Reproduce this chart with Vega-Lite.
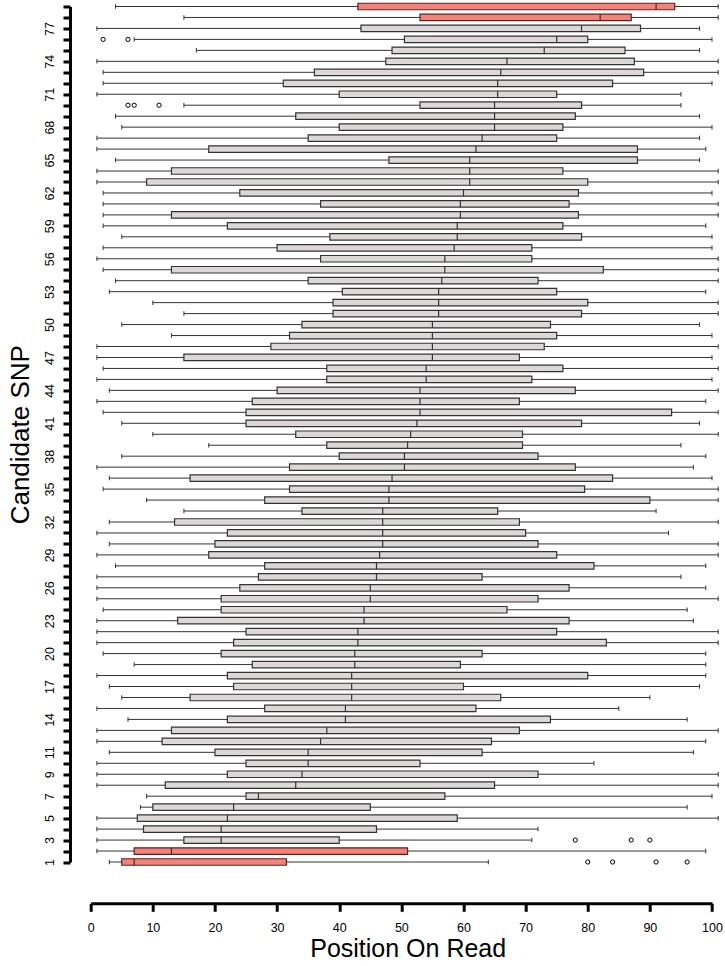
{
  "$schema": "https://vega.github.io/schema/vega-lite/v6.json",
  "width": 621.3,
  "height": 855.5,
  "autosize": "none",
  "padding": {"left": 90.7, "top": 6.5, "right": 13, "bottom": 104},
  "config": {"view": {"stroke": null}, "font": "Liberation Sans"},
  "datasets": {
    "boxes": [
      {"snp":1,"lo":3,"q1":5,"med":7,"q3":31.5,"hi":64},
      {"snp":2,"lo":1,"q1":7,"med":13,"q3":51,"hi":99},
      {"snp":3,"lo":1,"q1":15,"med":21,"q3":40,"hi":71},
      {"snp":4,"lo":1,"q1":8.5,"med":21,"q3":46,"hi":72},
      {"snp":5,"lo":1,"q1":7.5,"med":22,"q3":59,"hi":101},
      {"snp":6,"lo":8,"q1":10,"med":23,"q3":45,"hi":96},
      {"snp":7,"lo":9,"q1":25,"med":27,"q3":57,"hi":100},
      {"snp":8,"lo":1,"q1":12,"med":33,"q3":65,"hi":101},
      {"snp":9,"lo":1,"q1":22,"med":34,"q3":72,"hi":101},
      {"snp":10,"lo":1,"q1":25,"med":35,"q3":53,"hi":81},
      {"snp":11,"lo":3,"q1":20,"med":35,"q3":63,"hi":97},
      {"snp":12,"lo":1,"q1":11.5,"med":37,"q3":64.5,"hi":99},
      {"snp":13,"lo":1,"q1":13,"med":38,"q3":69,"hi":101},
      {"snp":14,"lo":6,"q1":22,"med":41,"q3":74,"hi":96},
      {"snp":15,"lo":1,"q1":28,"med":41,"q3":62,"hi":85},
      {"snp":16,"lo":5,"q1":16,"med":42,"q3":66,"hi":90},
      {"snp":17,"lo":3,"q1":23,"med":42,"q3":60,"hi":98},
      {"snp":18,"lo":1,"q1":22,"med":42,"q3":80,"hi":99},
      {"snp":19,"lo":7,"q1":26,"med":42.5,"q3":59.5,"hi":99},
      {"snp":20,"lo":2,"q1":21,"med":42.5,"q3":63,"hi":99},
      {"snp":21,"lo":1,"q1":23,"med":43,"q3":83,"hi":101},
      {"snp":22,"lo":1,"q1":25,"med":43,"q3":75,"hi":101},
      {"snp":23,"lo":1,"q1":14,"med":44,"q3":77,"hi":97},
      {"snp":24,"lo":2,"q1":21,"med":44,"q3":67,"hi":96},
      {"snp":25,"lo":1,"q1":21,"med":45,"q3":72,"hi":101},
      {"snp":26,"lo":1,"q1":24,"med":45,"q3":77,"hi":99},
      {"snp":27,"lo":1,"q1":27,"med":46,"q3":63,"hi":95},
      {"snp":28,"lo":4,"q1":28,"med":46,"q3":81,"hi":99},
      {"snp":29,"lo":1,"q1":19,"med":46.5,"q3":75,"hi":101},
      {"snp":30,"lo":3,"q1":20,"med":47,"q3":72,"hi":101},
      {"snp":31,"lo":1,"q1":22,"med":47,"q3":70,"hi":93},
      {"snp":32,"lo":3,"q1":13.5,"med":47,"q3":69,"hi":101},
      {"snp":33,"lo":15,"q1":34,"med":47,"q3":65.5,"hi":91},
      {"snp":34,"lo":9,"q1":28,"med":48,"q3":90,"hi":101},
      {"snp":35,"lo":2,"q1":32,"med":48,"q3":79.5,"hi":101},
      {"snp":36,"lo":3,"q1":16,"med":48.5,"q3":84,"hi":100},
      {"snp":37,"lo":1,"q1":32,"med":50.5,"q3":78,"hi":97},
      {"snp":38,"lo":5,"q1":40,"med":50.5,"q3":72,"hi":99},
      {"snp":39,"lo":19,"q1":38,"med":51,"q3":69.5,"hi":95},
      {"snp":40,"lo":10,"q1":33,"med":51.5,"q3":69.5,"hi":101},
      {"snp":41,"lo":5,"q1":25,"med":52.5,"q3":79,"hi":98},
      {"snp":42,"lo":2,"q1":25,"med":53,"q3":93.5,"hi":101},
      {"snp":43,"lo":1,"q1":26,"med":53,"q3":69,"hi":99},
      {"snp":44,"lo":3,"q1":30,"med":53,"q3":78,"hi":101},
      {"snp":45,"lo":1,"q1":38,"med":54,"q3":71,"hi":100},
      {"snp":46,"lo":2,"q1":38,"med":54,"q3":76,"hi":101},
      {"snp":47,"lo":1,"q1":15,"med":55,"q3":69,"hi":100},
      {"snp":48,"lo":1,"q1":29,"med":55,"q3":73,"hi":101},
      {"snp":49,"lo":13,"q1":32,"med":55,"q3":75,"hi":100},
      {"snp":50,"lo":5,"q1":34,"med":55,"q3":74,"hi":98},
      {"snp":51,"lo":15,"q1":39,"med":56,"q3":79,"hi":101},
      {"snp":52,"lo":10,"q1":39,"med":56,"q3":80,"hi":101},
      {"snp":53,"lo":3,"q1":40.5,"med":56,"q3":75,"hi":99},
      {"snp":54,"lo":4,"q1":35,"med":56.5,"q3":72,"hi":101},
      {"snp":55,"lo":2,"q1":13,"med":57,"q3":82.5,"hi":101},
      {"snp":56,"lo":1,"q1":37,"med":57,"q3":71,"hi":101},
      {"snp":57,"lo":2,"q1":30,"med":58.5,"q3":71,"hi":100},
      {"snp":58,"lo":5,"q1":38.5,"med":59,"q3":79,"hi":100},
      {"snp":59,"lo":2,"q1":22,"med":59,"q3":76,"hi":99},
      {"snp":60,"lo":2,"q1":13,"med":59.5,"q3":78.5,"hi":101},
      {"snp":61,"lo":2,"q1":37,"med":59.5,"q3":77,"hi":101},
      {"snp":62,"lo":2,"q1":24,"med":60,"q3":78.5,"hi":100},
      {"snp":63,"lo":1,"q1":9,"med":61,"q3":80,"hi":101},
      {"snp":64,"lo":1,"q1":13,"med":61,"q3":76,"hi":101},
      {"snp":65,"lo":4,"q1":48,"med":61,"q3":88,"hi":98},
      {"snp":66,"lo":1,"q1":19,"med":62,"q3":88,"hi":99},
      {"snp":67,"lo":1,"q1":35,"med":63,"q3":75,"hi":98},
      {"snp":68,"lo":5,"q1":40,"med":65,"q3":76,"hi":100},
      {"snp":69,"lo":4,"q1":33,"med":65,"q3":78,"hi":98},
      {"snp":70,"lo":15,"q1":53,"med":65,"q3":79,"hi":95},
      {"snp":71,"lo":1,"q1":40,"med":65.5,"q3":75,"hi":95},
      {"snp":72,"lo":2,"q1":31,"med":65.5,"q3":84,"hi":100},
      {"snp":73,"lo":2,"q1":36,"med":66,"q3":89,"hi":101},
      {"snp":74,"lo":1,"q1":47.5,"med":67,"q3":87.5,"hi":101},
      {"snp":75,"lo":17,"q1":48.5,"med":73,"q3":86,"hi":98},
      {"snp":76,"lo":7,"q1":50.5,"med":75,"q3":80,"hi":100},
      {"snp":77,"lo":1,"q1":43.5,"med":79,"q3":88.5,"hi":98},
      {"snp":78,"lo":15,"q1":53,"med":82,"q3":87,"hi":101},
      {"snp":79,"lo":4,"q1":43,"med":91,"q3":94,"hi":101}
    ],
    "outliers": [
      {"snp":1,"pos":80},{"snp":1,"pos":84},{"snp":1,"pos":91},{"snp":1,"pos":96},
      {"snp":3,"pos":78},{"snp":3,"pos":87},{"snp":3,"pos":90},
      {"snp":70,"pos":6},{"snp":70,"pos":7},{"snp":70,"pos":11},
      {"snp":76,"pos":2},{"snp":76,"pos":6}
    ]
  },
  "layer": [
    {
      "data": {"name": "boxes"},
      "mark": {"type": "rule", "stroke": "#333333", "strokeWidth": 1},
      "encoding": {
        "x": {"field": "lo", "type": "quantitative",
          "scale": {"domain": [0, 100], "nice": false, "zero": false, "padding": 0},
          "axis": {"title": "Position On Read", "values": [0,10,20,30,40,50,60,70,80,90,100], "offset": 41.3, "grid": false, "domainWidth": 3, "domainColor": "#000000", "tickWidth": 3, "tickColor": "#000000", "tickSize": 8, "labelFontSize": 12.5, "labelColor": "#000000", "labelAngle": 0, "labelPadding": 10, "labelFlush": false, "labelOverlap": false, "labelBound": false, "titleFontSize": 25, "titleFontWeight": "normal", "titleColor": "#000000", "titlePadding": 3, "titleX": 317, "titleAlign": "center"}},
        "x2": {"field": "hi"},
        "y": {"field": "snp", "type": "quantitative",
          "scale": {"domain": [1, 79], "nice": false, "zero": false, "padding": 0},
          "axis": {"title": "Candidate SNP", "values": [1,2,3,4,5,6,7,8,9,10,11,12,13,14,15,16,17,18,19,20,21,22,23,24,25,26,27,28,29,30,31,32,33,34,35,36,37,38,39,40,41,42,43,44,45,46,47,48,49,50,51,52,53,54,55,56,57,58,59,60,61,62,63,64,65,66,67,68,69,70,71,72,73,74,75,76,77,78,79], "labelExpr": "indexof([1,3,5,7,9,11,14,17,20,23,26,29,32,35,38,41,44,47,50,53,56,59,62,65,68,71,74,77], datum.value) >= 0 ? datum.label : ''", "offset": 20.7, "grid": false, "domainWidth": 3, "domainColor": "#000000", "tickWidth": 3, "tickColor": "#000000", "tickSize": 7, "labelFontSize": 12.5, "labelColor": "#000000", "labelAngle": 270, "labelAlign": "center", "labelBaseline": "bottom", "labelPadding": 7, "labelFlush": false, "labelOverlap": false, "labelBound": false, "titleFontSize": 26, "titleFontWeight": "normal", "titleColor": "#000000", "titlePadding": 10}}
      }
    },
    {
      "data": {"name": "boxes"},
      "mark": {"type": "tick", "orient": "vertical", "size": 4.5, "thickness": 1, "color": "#333333", "opacity": 1},
      "encoding": {
        "x": {"field": "lo", "type": "quantitative", "scale": {"domain": [0, 100], "nice": false, "zero": false, "padding": 0},
          "axis": {"title": "Position On Read", "values": [0,10,20,30,40,50,60,70,80,90,100], "offset": 41.3, "grid": false, "domainWidth": 3, "domainColor": "#000000", "tickWidth": 3, "tickColor": "#000000", "tickSize": 8, "labelFontSize": 12.5, "labelColor": "#000000", "labelAngle": 0, "labelPadding": 10, "labelFlush": false, "labelOverlap": false, "labelBound": false, "titleFontSize": 25, "titleFontWeight": "normal", "titleColor": "#000000", "titlePadding": 3, "titleX": 317, "titleAlign": "center"}},
        "y": {"field": "snp", "type": "quantitative", "scale": {"domain": [1, 79], "nice": false, "zero": false, "padding": 0},
          "axis": {"title": "Candidate SNP", "values": [1,2,3,4,5,6,7,8,9,10,11,12,13,14,15,16,17,18,19,20,21,22,23,24,25,26,27,28,29,30,31,32,33,34,35,36,37,38,39,40,41,42,43,44,45,46,47,48,49,50,51,52,53,54,55,56,57,58,59,60,61,62,63,64,65,66,67,68,69,70,71,72,73,74,75,76,77,78,79], "labelExpr": "indexof([1,3,5,7,9,11,14,17,20,23,26,29,32,35,38,41,44,47,50,53,56,59,62,65,68,71,74,77], datum.value) >= 0 ? datum.label : ''", "offset": 20.7, "grid": false, "domainWidth": 3, "domainColor": "#000000", "tickWidth": 3, "tickColor": "#000000", "tickSize": 7, "labelFontSize": 12.5, "labelColor": "#000000", "labelAngle": 270, "labelAlign": "center", "labelBaseline": "bottom", "labelPadding": 7, "labelFlush": false, "labelOverlap": false, "labelBound": false, "titleFontSize": 26, "titleFontWeight": "normal", "titleColor": "#000000", "titlePadding": 10}}
      }
    },
    {
      "data": {"name": "boxes"},
      "mark": {"type": "tick", "orient": "vertical", "size": 4.5, "thickness": 1, "color": "#333333", "opacity": 1},
      "encoding": {
        "x": {"field": "hi", "type": "quantitative", "scale": {"domain": [0, 100], "nice": false, "zero": false, "padding": 0},
          "axis": {"title": "Position On Read", "values": [0,10,20,30,40,50,60,70,80,90,100], "offset": 41.3, "grid": false, "domainWidth": 3, "domainColor": "#000000", "tickWidth": 3, "tickColor": "#000000", "tickSize": 8, "labelFontSize": 12.5, "labelColor": "#000000", "labelAngle": 0, "labelPadding": 10, "labelFlush": false, "labelOverlap": false, "labelBound": false, "titleFontSize": 25, "titleFontWeight": "normal", "titleColor": "#000000", "titlePadding": 3, "titleX": 317, "titleAlign": "center"}},
        "y": {"field": "snp", "type": "quantitative", "scale": {"domain": [1, 79], "nice": false, "zero": false, "padding": 0},
          "axis": {"title": "Candidate SNP", "values": [1,2,3,4,5,6,7,8,9,10,11,12,13,14,15,16,17,18,19,20,21,22,23,24,25,26,27,28,29,30,31,32,33,34,35,36,37,38,39,40,41,42,43,44,45,46,47,48,49,50,51,52,53,54,55,56,57,58,59,60,61,62,63,64,65,66,67,68,69,70,71,72,73,74,75,76,77,78,79], "labelExpr": "indexof([1,3,5,7,9,11,14,17,20,23,26,29,32,35,38,41,44,47,50,53,56,59,62,65,68,71,74,77], datum.value) >= 0 ? datum.label : ''", "offset": 20.7, "grid": false, "domainWidth": 3, "domainColor": "#000000", "tickWidth": 3, "tickColor": "#000000", "tickSize": 7, "labelFontSize": 12.5, "labelColor": "#000000", "labelAngle": 270, "labelAlign": "center", "labelBaseline": "bottom", "labelPadding": 7, "labelFlush": false, "labelOverlap": false, "labelBound": false, "titleFontSize": 26, "titleFontWeight": "normal", "titleColor": "#000000", "titlePadding": 10}}
      }
    },
    {
      "data": {"name": "boxes"},
      "mark": {"type": "bar", "size": 6.5, "strokeWidth": 1.2, "opacity": 1},
      "encoding": {
        "x": {"field": "q1", "type": "quantitative", "scale": {"domain": [0, 100], "nice": false, "zero": false, "padding": 0},
          "axis": {"title": "Position On Read", "values": [0,10,20,30,40,50,60,70,80,90,100], "offset": 41.3, "grid": false, "domainWidth": 3, "domainColor": "#000000", "tickWidth": 3, "tickColor": "#000000", "tickSize": 8, "labelFontSize": 12.5, "labelColor": "#000000", "labelAngle": 0, "labelPadding": 10, "labelFlush": false, "labelOverlap": false, "labelBound": false, "titleFontSize": 25, "titleFontWeight": "normal", "titleColor": "#000000", "titlePadding": 3, "titleX": 317, "titleAlign": "center"}},
        "x2": {"field": "q3"},
        "y": {"field": "snp", "type": "quantitative", "scale": {"domain": [1, 79], "nice": false, "zero": false, "padding": 0},
          "axis": {"title": "Candidate SNP", "values": [1,2,3,4,5,6,7,8,9,10,11,12,13,14,15,16,17,18,19,20,21,22,23,24,25,26,27,28,29,30,31,32,33,34,35,36,37,38,39,40,41,42,43,44,45,46,47,48,49,50,51,52,53,54,55,56,57,58,59,60,61,62,63,64,65,66,67,68,69,70,71,72,73,74,75,76,77,78,79], "labelExpr": "indexof([1,3,5,7,9,11,14,17,20,23,26,29,32,35,38,41,44,47,50,53,56,59,62,65,68,71,74,77], datum.value) >= 0 ? datum.label : ''", "offset": 20.7, "grid": false, "domainWidth": 3, "domainColor": "#000000", "tickWidth": 3, "tickColor": "#000000", "tickSize": 7, "labelFontSize": 12.5, "labelColor": "#000000", "labelAngle": 270, "labelAlign": "center", "labelBaseline": "bottom", "labelPadding": 7, "labelFlush": false, "labelOverlap": false, "labelBound": false, "titleFontSize": 26, "titleFontWeight": "normal", "titleColor": "#000000", "titlePadding": 10}},
        "fill": {"condition": {"test": "datum.snp <= 2 || datum.snp >= 78", "value": "#f2827a"}, "value": "#dcd8d8"},
        "stroke": {"condition": {"test": "datum.snp <= 2 || datum.snp >= 78", "value": "#5a2420"}, "value": "#333333"}
      }
    },
    {
      "data": {"name": "boxes"},
      "mark": {"type": "tick", "orient": "vertical", "size": 6.5, "thickness": 1.2, "opacity": 1},
      "encoding": {
        "x": {"field": "med", "type": "quantitative", "scale": {"domain": [0, 100], "nice": false, "zero": false, "padding": 0},
          "axis": {"title": "Position On Read", "values": [0,10,20,30,40,50,60,70,80,90,100], "offset": 41.3, "grid": false, "domainWidth": 3, "domainColor": "#000000", "tickWidth": 3, "tickColor": "#000000", "tickSize": 8, "labelFontSize": 12.5, "labelColor": "#000000", "labelAngle": 0, "labelPadding": 10, "labelFlush": false, "labelOverlap": false, "labelBound": false, "titleFontSize": 25, "titleFontWeight": "normal", "titleColor": "#000000", "titlePadding": 3, "titleX": 317, "titleAlign": "center"}},
        "y": {"field": "snp", "type": "quantitative", "scale": {"domain": [1, 79], "nice": false, "zero": false, "padding": 0},
          "axis": {"title": "Candidate SNP", "values": [1,2,3,4,5,6,7,8,9,10,11,12,13,14,15,16,17,18,19,20,21,22,23,24,25,26,27,28,29,30,31,32,33,34,35,36,37,38,39,40,41,42,43,44,45,46,47,48,49,50,51,52,53,54,55,56,57,58,59,60,61,62,63,64,65,66,67,68,69,70,71,72,73,74,75,76,77,78,79], "labelExpr": "indexof([1,3,5,7,9,11,14,17,20,23,26,29,32,35,38,41,44,47,50,53,56,59,62,65,68,71,74,77], datum.value) >= 0 ? datum.label : ''", "offset": 20.7, "grid": false, "domainWidth": 3, "domainColor": "#000000", "tickWidth": 3, "tickColor": "#000000", "tickSize": 7, "labelFontSize": 12.5, "labelColor": "#000000", "labelAngle": 270, "labelAlign": "center", "labelBaseline": "bottom", "labelPadding": 7, "labelFlush": false, "labelOverlap": false, "labelBound": false, "titleFontSize": 26, "titleFontWeight": "normal", "titleColor": "#000000", "titlePadding": 10}},
        "color": {"condition": {"test": "datum.snp <= 2 || datum.snp >= 78", "value": "#5a2420"}, "value": "#333333"}
      }
    },
    {
      "data": {"name": "outliers"},
      "mark": {"type": "point", "shape": "circle", "filled": false, "size": 18, "stroke": "#000000", "strokeWidth": 1, "opacity": 1},
      "encoding": {
        "x": {"field": "pos", "type": "quantitative", "scale": {"domain": [0, 100], "nice": false, "zero": false, "padding": 0},
          "axis": {"title": "Position On Read", "values": [0,10,20,30,40,50,60,70,80,90,100], "offset": 41.3, "grid": false, "domainWidth": 3, "domainColor": "#000000", "tickWidth": 3, "tickColor": "#000000", "tickSize": 8, "labelFontSize": 12.5, "labelColor": "#000000", "labelAngle": 0, "labelPadding": 10, "labelFlush": false, "labelOverlap": false, "labelBound": false, "titleFontSize": 25, "titleFontWeight": "normal", "titleColor": "#000000", "titlePadding": 3, "titleX": 317, "titleAlign": "center"}},
        "y": {"field": "snp", "type": "quantitative", "scale": {"domain": [1, 79], "nice": false, "zero": false, "padding": 0},
          "axis": {"title": "Candidate SNP", "values": [1,2,3,4,5,6,7,8,9,10,11,12,13,14,15,16,17,18,19,20,21,22,23,24,25,26,27,28,29,30,31,32,33,34,35,36,37,38,39,40,41,42,43,44,45,46,47,48,49,50,51,52,53,54,55,56,57,58,59,60,61,62,63,64,65,66,67,68,69,70,71,72,73,74,75,76,77,78,79], "labelExpr": "indexof([1,3,5,7,9,11,14,17,20,23,26,29,32,35,38,41,44,47,50,53,56,59,62,65,68,71,74,77], datum.value) >= 0 ? datum.label : ''", "offset": 20.7, "grid": false, "domainWidth": 3, "domainColor": "#000000", "tickWidth": 3, "tickColor": "#000000", "tickSize": 7, "labelFontSize": 12.5, "labelColor": "#000000", "labelAngle": 270, "labelAlign": "center", "labelBaseline": "bottom", "labelPadding": 7, "labelFlush": false, "labelOverlap": false, "labelBound": false, "titleFontSize": 26, "titleFontWeight": "normal", "titleColor": "#000000", "titlePadding": 10}}
      }
    }
  ]
}
